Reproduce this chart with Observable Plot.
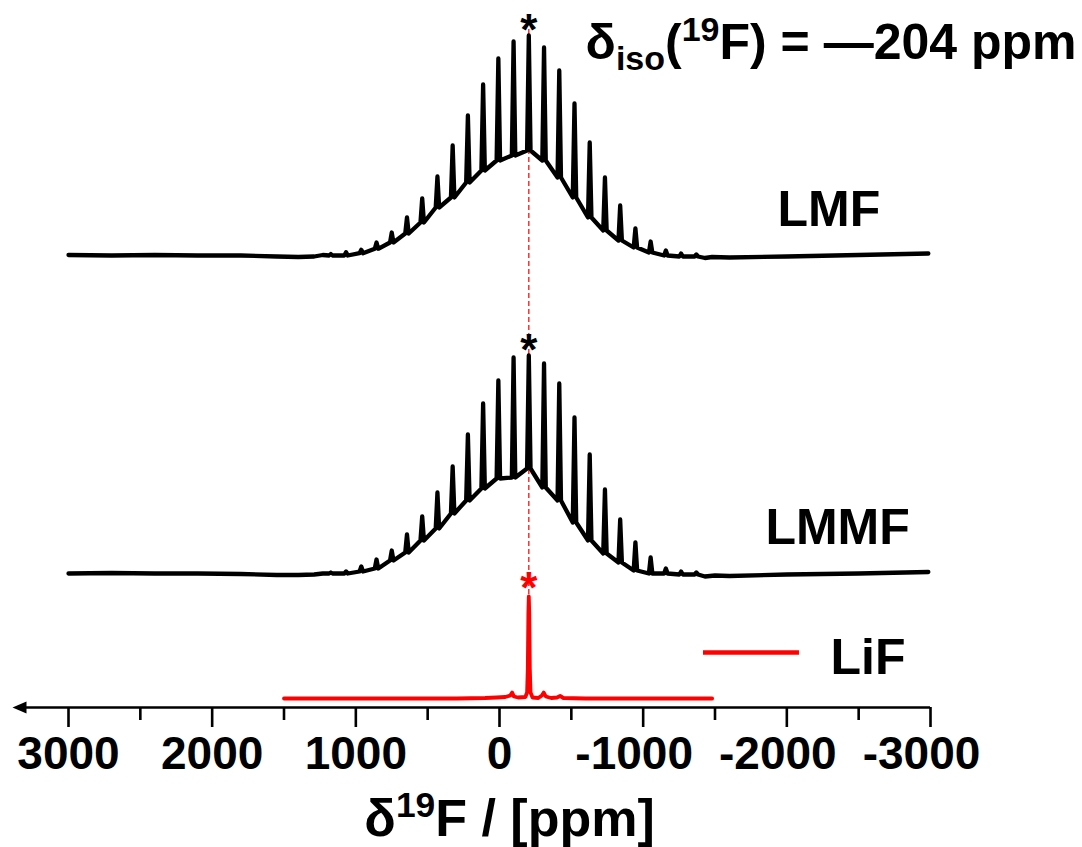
<!DOCTYPE html>
<html><head><meta charset="utf-8">
<script src="https://cdn.jsdelivr.net/npm/d3@7"></script>
<script src="https://cdn.jsdelivr.net/npm/@observablehq/plot@0.6"></script>
<style>html,body{margin:0;padding:0;background:#fff}svg{display:block}</style>
</head><body><div id="chart"></div>
<script>
// ---- data (ppm vs. intensity, arbitrary units) ----
const sidebandPpm = [1174,1068,962,856,750,644,538,432,326,220,114,8,-98,-204,-310,-416,-522,-628,-734,-840,-946,-1052,-1158,-1264,-1370];
const lmfPeak   = [1.5,3.3,5.7,13,23,38,57,79,110,140,171,197,214,220,208,185,152,113,78,50,27,14,5,2,1];
const lmfFloor  = [0,0,2.3,6.7,13,22,33,48,58,73,85,95,100,105,95,78,58,38,25,15,8,3,0,-1,-1];
const lmmfPeak  = [1,2,7,14,23,39,57,81,107,139,170,193,216,218,210,190,156,119,84,54,31,16,5,2,1];
const lmmfFloor = [0,0,2,5,13,21,33,45,60,73,85,95,96,105,86,73,51,33,20,11,3,0,0,-1,-1];
const lmfLeft   = [[3000,0.5],[2700,0],[2400,0.5],[2100,0],[1800,0],[1550,-1],[1400,-1.5],[1290,-1],[1230,0.5]];
const lmfRight  = [[-1430,-2.5],[-1480,-1.5],[-1600,-2],[-2000,-1],[-2500,0.5],[-2985,2]];
const lmmfLeft  = [[3000,0],[2700,0.5],[2400,0],[2100,0],[1800,-0.5],[1550,-1.5],[1400,-1.5],[1290,-1],[1230,0]];
const lmmfRight = [[-1430,-3],[-1500,-2],[-1600,-2.5],[-2000,-1],[-2500,0],[-2985,1.5]];
const lifPoints = [[1500,0],[1000,0],[600,0],[300,0],[100,0.5],[20,1],[-40,1.5],[-75,3],[-88,6],[-100,2],[-130,1],[-180,1.5],[-192,6],[-197,30],[-201,85],[-204,102],[-207,85],[-211,30],[-216,6],[-230,1],[-270,0.5],[-295,3],[-308,6],[-322,2],[-360,0.5],[-400,1],[-422,2.5],[-445,0.5],[-600,0],[-1000,0],[-1480,0]];
const majorTicks = [3000,2000,1000,0,-1000,-2000,-3000];
const minorTicks = [2500,1500,500,-500,-1500,-2500];
const isoShift = -204;

// ---- layout constants ----
const offsets = {LMF: 452, LMMF: 134, LiF: 9};
const halfWidth = 12;
const FONT = "Liberation Sans, Arial, Helvetica, sans-serif";

function spectrum(name, left, peaks, floors, right) {
  const off = offsets[name];
  const pts = left.map(([p, v]) => ({name, ppm: p, y: off + v}));
  sidebandPpm.forEach((p, i) => {
    pts.push({name, ppm: p + halfWidth, y: off + floors[i]});
    pts.push({name, ppm: p, y: off + peaks[i]});
    pts.push({name, ppm: p - halfWidth, y: off + floors[i]});
  });
  right.forEach(([p, v]) => pts.push({name, ppm: p, y: off + v}));
  return pts;
}
const lmf = spectrum("LMF", lmfLeft, lmfPeak, lmfFloor, lmfRight);
const lmmf = spectrum("LMMF", lmmfLeft, lmmfPeak, lmmfFloor, lmmfRight);
const lif = lifPoints.map(([p, v]) => ({name: "LiF", ppm: p, y: offsets.LiF + v}));

const txt = {fontFamily: FONT, fontWeight: "bold", fill: "black"};
const noText = () => "";

const plot = Plot.plot({
  width: 1082, height: 847,
  marginLeft: 68, marginRight: 152, marginTop: 7, marginBottom: 140,
  style: {fontFamily: FONT, background: "white", overflow: "visible"},
  x: {domain: [3000, -3000]},
  y: {domain: [0, 700], axis: null},
  marks: [
    // axis line + arrow
    Plot.ruleY([{y: 0, x1: 3360, x2: -3000}], {y: "y", x1: "x1", x2: "x2", strokeWidth: 2.6, stroke: "black"}),
    Plot.dot([{x: 3341, y: 0}], {x: "x", y: "y", fill: "black", stroke: null, r: 7,
      symbol: {draw(c) { c.moveTo(-7, 0); c.lineTo(7, -6); c.lineTo(7, 6); c.closePath(); }}}),
    Plot.axisX(majorTicks, {tickSize: 20, tickFormat: noText, strokeWidth: 2.6, stroke: "black", label: null}),
    Plot.axisX(minorTicks, {tickSize: 13, tickFormat: noText, strokeWidth: 2.6, stroke: "black", label: null}),
    Plot.axisX(majorTicks.filter(d => d >= 0), {tickSize: 0, tickPadding: 29, tickFormat: d => String(d), fontSize: 46, fontWeight: "bold", fill: "black", label: null}),
    Plot.axisX(majorTicks.filter(d => d < 0), {tickSize: 0, tickPadding: 29, dx: -9, tickFormat: d => String(d), fontSize: 46, fontWeight: "bold", fill: "black", label: null}),
    // dashed isotropic line
    Plot.ruleX([isoShift], {y1: 113, y2: 680, stroke: "#ff2020", strokeWidth: 1.4, strokeDasharray: "5,3"}),
    // spectra
    Plot.line(lmf, {x: "ppm", y: "y", stroke: "black", strokeWidth: 4.3, strokeLinejoin: "round", curve: "linear"}),
    Plot.line(lmmf, {x: "ppm", y: "y", stroke: "black", strokeWidth: 4.3, strokeLinejoin: "round", curve: "linear"}),
    Plot.line(lif, {x: "ppm", y: "y", stroke: "#ff0000", strokeWidth: 3.8, strokeLinejoin: "round", curve: "linear"}),
    // asterisks
    Plot.text([694, 374], {x: isoShift, y: d => d, text: () => "*", lineAnchor: "top", textAnchor: "middle", fontSize: 44, ...txt}),
    Plot.text([136], {x: isoShift, y: d => d, text: () => "*", lineAnchor: "top", textAnchor: "middle", fontSize: 44, ...txt, fill: "#ff0000"}),
    // sample labels
    Plot.text(["LMF"], {x: -1935, y: 482, text: d => d, textAnchor: "start", lineAnchor: "bottom", fontSize: 50, ...txt}),
    Plot.text(["LMMF"], {x: -1851, y: 164, text: d => d, textAnchor: "start", lineAnchor: "bottom", fontSize: 50, ...txt}),
    // legend
    Plot.ruleY([{y: 55, x1: -1420, x2: -2088}], {y: "y", x1: "x1", x2: "x2", stroke: "#ff0000", strokeWidth: 4.5}),
    Plot.text(["LiF"], {x: -2304, y: 34, text: d => d, textAnchor: "start", lineAnchor: "bottom", fontSize: 50, ...txt}),
    // title and axis label
    Plot.text(["δiso(19F) = —204 ppm"], {x: -599, y: 649, text: d => d, textAnchor: "start", lineAnchor: "bottom", fontSize: 50, ...txt}),
    Plot.text(["δ19F / [ppm]"], {x: -70, y: -128, text: d => d, textAnchor: "middle", lineAnchor: "bottom", fontSize: 52, ...txt})
  ]
});

// rich text (sub/superscripts)
const rich = {
  "δiso(19F) = —204 ppm": {size: 50, parts: [["δ"], ["iso", "sub"], ["("], ["19", "sup"], ["F) = —204 ppm"]]},
  "δ19F / [ppm]": {size: 52, parts: [["δ"], ["19", "sup"], ["F / [ppm]"]]}
};
d3.select(plot).selectAll("text").each(function () {
  const r = rich[this.textContent];
  if (!r) return;
  const el = d3.select(this);
  el.text(null);
  let shift = 0;
  for (const [t, kind] of r.parts) {
    const target = kind === "sub" ? r.size * 0.22 : kind === "sup" ? -r.size * 0.36 : 0;
    const ts = el.append("tspan").attr("dy", target - shift).text(t);
    if (kind) ts.attr("font-size", r.size * 0.68);
    shift = target;
  }
});
document.getElementById("chart").appendChild(plot);
</script>
</body></html>
